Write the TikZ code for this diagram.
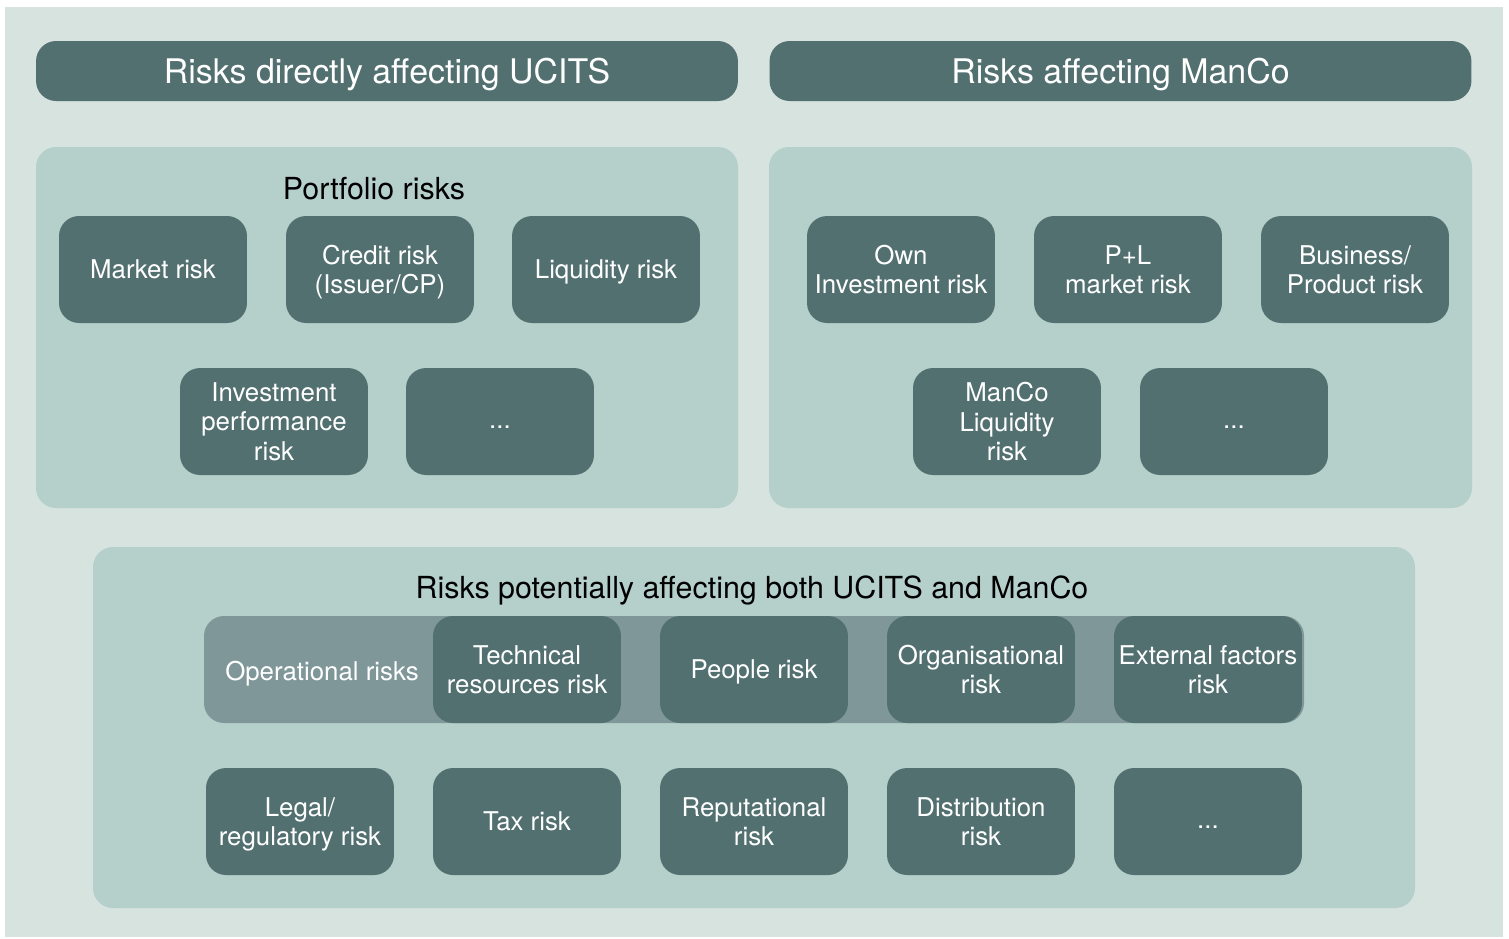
\documentclass[tikz,border=0pt]{standalone}
\usepackage{fontspec}
\setmainfont{TeX Gyre Heros}
\definecolor{bgout}{HTML}{D7E3DF}
\definecolor{panel}{HTML}{B5D0CA}
\definecolor{darkbox}{HTML}{537071}
\definecolor{opband}{HTML}{7F9799}
\tikzset{
  riskbox/.style={fill=darkbox,rounded corners=0.4cm,minimum width=3.76cm,minimum height=2.14cm,
    inner sep=0pt,text depth=0pt,text=white,align=center,font=\fontsize{14.7}{16.7}\selectfont},
  titlebar/.style={fill=darkbox,rounded corners=0.4cm,minimum width=14.04cm,minimum height=1.2cm,
    inner sep=0pt,text depth=0pt,text=white,font=\fontsize{19.3}{22}\selectfont},
  paneltitle/.style={text=black,font=\fontsize{17.3}{20}\selectfont}
}
\newcommand\moredots{\vphantom{x}...}
\begin{document}
\begin{tikzpicture}[x=0.02cm,y=-0.02cm]
\useasboundingbox(0,0)rectangle(1509,938);
% Fond
\fill[bgout](5,7)rectangle(1503,937);
% Titres
\node[titlebar](tucits)at(387,71){Risks directly affecting UCITS};
\node[titlebar](tmanco)at(1120.5,71){Risks affecting ManCo};
% Panneaux
\fill[panel,rounded corners=0.4cm](36,147)rectangle(738,508);
\fill[panel,rounded corners=0.4cm](769,147)rectangle(1472,508);
\fill[panel,rounded corners=0.4cm](93,547)rectangle(1415,908);
% Portfolio risks
\node[paneltitle](portf)at(374,189){Portfolio risks};
\node[riskbox](market)at(153,269.5){Market risk};
\node[riskbox](credit)at(380,269.5){Credit risk\\(Issuer/CP)};
\node[riskbox](liquid)at(606,269.5){Liquidity risk};
\node[riskbox](invperf)at(274,421.5){Investment\\performance\\risk};
\node[riskbox](portfmore)at(500,421.5){\moredots};
% ManCo
\node[riskbox](owninv)at(901,269.5){Own\\Investment risk};
\node[riskbox](pl)at(1128,269.5){P+L\\market risk};
\node[riskbox](business)at(1355,269.5){Business/\\Product risk};
\node[riskbox](mancoliq)at(1007,421.5){ManCo\\Liquidity\\risk};
\node[riskbox](mancomore)at(1234,421.5){\moredots};
% Risques communs
\node[paneltitle](both)at(752,590){Risks potentially affecting both UCITS and ManCo};
\fill[opband,rounded corners=0.4cm](204,616)rectangle(1304,723);
\node[text=white,text depth=0pt,font=\fontsize{14.7}{16.7}\selectfont](oper)at(322,671){Operational risks};
\node[riskbox](tech)at(527,669.5){Technical\\resources risk};
\node[riskbox](people)at(754,669.5){People risk};
\node[riskbox](organ)at(981,669.5){Organisational\\risk};
\node[riskbox](extern)at(1208,669.5){External factors\\risk};
\node[riskbox](legal)at(300,821.5){Legal/\\regulatory risk};
\node[riskbox](tax)at(527,821.5){Tax risk};
\node[riskbox](reput)at(754,821.5){Reputational\\risk};
\node[riskbox](distrib)at(981,821.5){Distribution\\risk};
\node[riskbox](bothmore)at(1208,821.5){\moredots};
\end{tikzpicture}
\end{document}
